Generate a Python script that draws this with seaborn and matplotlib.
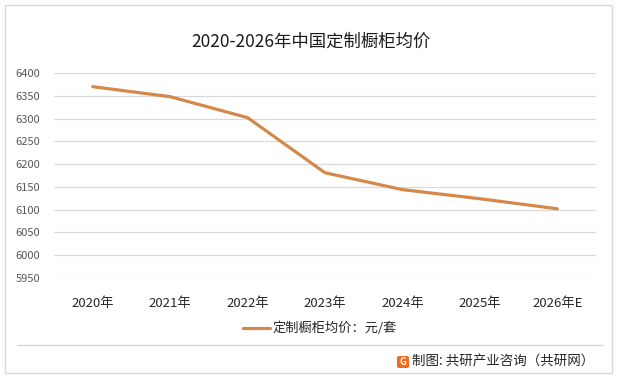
import pandas as pd
import matplotlib
matplotlib.use("Agg")
import matplotlib.pyplot as plt
import seaborn as sns
from matplotlib.patches import Rectangle, FancyBboxPatch
from matplotlib.lines import Line2D

# Data
years = ['2020年', '2021年', '2022年', '2023年', '2024年', '2025年', '2026年E']
price = [6370, 6348, 6302, 6181, 6144, 6124, 6102]
y_ticks = [5950, 6000, 6050, 6100, 6150, 6200, 6250, 6300, 6350, 6400]

df = pd.DataFrame({'year': years, 'price': price})

sns.set_theme(style='white')
plt.rcParams['font.family'] = ['Noto Sans CJK SC', 'DejaVu Sans']

line_color = '#D4884A'

fig = plt.figure(figsize=(6.18, 3.79), dpi=100)
ax = fig.add_axes([54 / 618, 1 - 278 / 379, 542 / 618, 205 / 379])

sns.lineplot(data=df, x='year', y='price', ax=ax, color=line_color,
             linewidth=2.3, sort=False)

ax.set_xlim(-0.5, len(years) - 0.5)
ax.set_ylim(5950, 6400)
ax.set_yticks(y_ticks)
ax.set_yticklabels([str(t) for t in y_ticks], fontsize=8, color='#595959')
ax.tick_params(axis='x', labelsize=9.5, labelcolor='#262626', pad=14, length=0)
ax.tick_params(axis='y', pad=10, length=0)
ax.grid(axis='y', color='#D9D9D9', linewidth=0.9)
ax.set_axisbelow(True)
for s in ax.spines.values():
    s.set_visible(False)
ax.set_xlabel('')
ax.set_ylabel('')

# Title
fig.text(311 / 618, 1 - 42 / 379, '2020-2026年中国定制橱柜均价', ha='center',
         va='center', fontsize=12.5, color='#1a1a1a')

# Legend
fig.add_artist(Line2D([243 / 618, 270 / 618], [1 - 328 / 379, 1 - 328 / 379],
                      color=line_color, linewidth=2.3))
fig.text(272 / 618, 1 - 328 / 379, '定制橱柜均价：元/套', ha='left', va='center',
         fontsize=9.5, color='#262626')

# Outer border and separator
fig.add_artist(Rectangle((5 / 618, 6 / 379), 607 / 618, 368 / 379,
                         transform=fig.transFigure, fill=False,
                         edgecolor='#D9D9D9', linewidth=1))
fig.add_artist(Line2D([17 / 618, 603 / 618], [1 - 345 / 379, 1 - 345 / 379],
                      color='#D9D9D9', linewidth=1))

# Footer
fig.add_artist(FancyBboxPatch((397 / 618, 1 - 368 / 379), 12 / 618, 12 / 379,
                              boxstyle='round,pad=0,rounding_size=0.004',
                              transform=fig.transFigure, facecolor='#F26B21',
                              edgecolor='none'))
fig.text(403 / 618, 1 - 362 / 379, 'G', ha='center', va='center', fontsize=7,
         color='white', fontweight='bold')
fig.text(594 / 618, 1 - 362 / 379, '制图: 共研产业咨询（共研网）', ha='right',
         va='center', fontsize=9.7, color='#262626')

fig.savefig('out.png', dpi=100, facecolor='white')
